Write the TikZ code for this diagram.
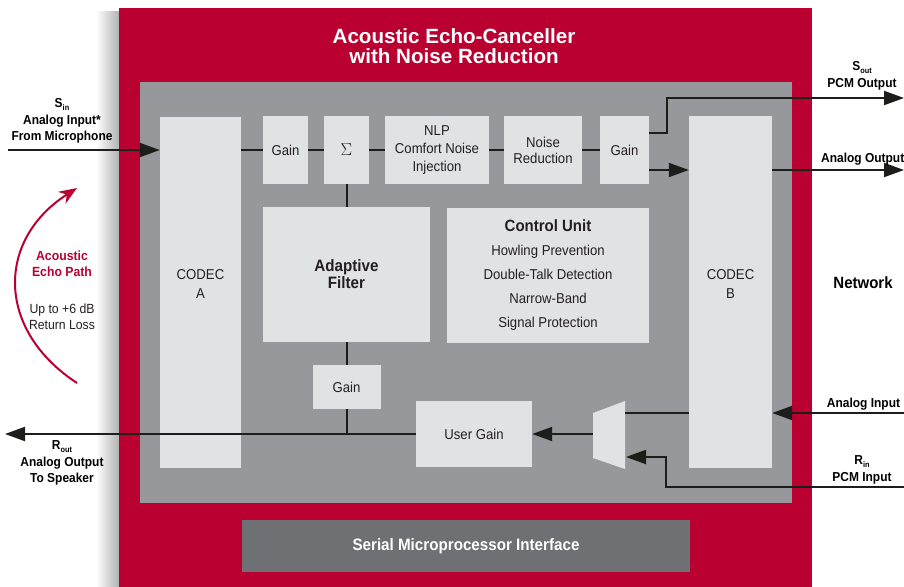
\documentclass[tikz,border=0pt]{standalone}
\usepackage{fontspec}
\setmainfont{Liberation Sans}[FakeStretch=0.92]
\newfontfamily\titlefont{Liberation Sans}
\usetikzlibrary{arrows.meta}
\definecolor{aecred}{HTML}{BA0031}
\definecolor{innergray}{HTML}{97989C}
\definecolor{boxgray}{HTML}{E1E2E4}
\definecolor{serialgray}{HTML}{6F7073}
\definecolor{txt}{HTML}{231F20}
\definecolor{lineblack}{HTML}{1D1D1B}
\newcommand\myfs[2]{\fontsize{#1}{#2}\selectfont}
\newcommand\mysub[1]{\raisebox{-0.35ex}{\fontsize{8}{8}\selectfont #1}}
\begin{document}
\begin{tikzpicture}[x=1pt,y=-1pt,
  box/.style={fill=boxgray, draw=none, text=txt, align=center, inner sep=0pt, font=\myfs{14.3}{18}},
  conn/.style={draw=lineblack, line width=2pt},
  arr/.style={conn, -{Triangle[length=20pt,width=14pt]}},
  lbl/.style={align=center, text=black, font=\bfseries\myfs{13}{16.5}},
  plain/.style={align=center, text=txt, inner sep=0pt},
]
\useasboundingbox (0,0) rectangle (904,586);
% frames
\shade[left color=white, right color=black!30] (96,12) rectangle (119,586);
\fill[aecred] (119,8) rectangle (812,590);
\fill[innergray] (140,82) rectangle (792,503);
\node[plain, text=white, font=\titlefont\bfseries\myfs{20.6}{20}] (title) at (454,46) {Acoustic Echo-Canceller\\with Noise Reduction};
% boxes
\node[box, minimum width=81pt, minimum height=351pt] (codA) at (200.5,292.5) {};
\node[plain, font=\myfs{14.3}{19}] (codAt) at (200.5,284) {CODEC\\A};
\node[box, minimum width=45pt, minimum height=68pt] (g1) at (285.5,150) {Gain};
\node[box, minimum width=45pt, minimum height=68pt, font=\myfs{16}{18}] (sig) at (346.5,150) {$\Sigma$};
\node[box, minimum width=104pt, minimum height=68pt] (nlp) at (437,150) {NLP\\Comfort Noise\\Injection};
\node[box, minimum width=78pt, minimum height=68pt, font=\myfs{14.3}{16}] (nr) at (543,150) {Noise\\Reduction};
\node[box, minimum width=49pt, minimum height=68pt] (g2) at (624.5,150) {Gain};
\node[box, minimum width=83pt, minimum height=352pt] (codB) at (730.5,292) {};
\node[plain, font=\myfs{14.3}{19}] (codBt) at (730.5,284) {CODEC\\B};
\node[box, minimum width=167pt, minimum height=135pt, font=\bfseries\myfs{16.5}{17}] (af) at (346.5,274.5) {Adaptive\\Filter};
\node[box, minimum width=202pt, minimum height=135pt, font=\myfs{14.3}{24}] (cu) at (548,275) {{\bfseries\myfs{16.3}{24}Control Unit}\\Howling Prevention\\Double-Talk Detection\\Narrow-Band\\Signal Protection};
\node[box, minimum width=68pt, minimum height=44pt] (g3) at (346.5,387) {Gain};
\node[box, minimum width=116pt, minimum height=66pt] (ug) at (474,434) {User Gain};
\fill[boxgray] (593,413) -- (625,401) -- (625,469) -- (593,458) -- cycle;
\node[fill=serialgray, text=white, inner sep=0pt, minimum width=448pt, minimum height=52pt, font=\bfseries\myfs{16.5}{18}] (ser) at (466,546) {Serial Microprocessor Interface};
% coordinates
\coordinate (sinL) at (8,150);
\coordinate (y170) at (0,170);
\coordinate (y133) at (0,133);
\coordinate (soutK) at (667,98);
\coordinate (soutE) at (904,98);
\coordinate (aoutE) at (904,170);
\coordinate (ainE) at (904,413);
\coordinate (muxTop) at (625,413);
\coordinate (rinE) at (904,487);
\coordinate (rinK) at (666,457);
\coordinate (muxBot) at (626,457);
\coordinate (muxL) at (593,434);
\coordinate (routE) at (5,434);
\coordinate (arcS) at (77,383);
\coordinate (arcE) at (77,188);
% connectors
\draw[arr] (sinL) -- (codA.west |- sinL);
\draw[conn] (codA.east |- g1.west) -- (g1.west);
\draw[conn] (g1.east) -- (sig.west);
\draw[conn] (sig.east) -- (nlp.west);
\draw[conn] (nlp.east) -- (nr.west);
\draw[conn] (nr.east) -- (g2.west);
\draw[arr] (g2.east |- y170) -- (codB.west |- y170);
\draw[arr] (g2.east |- y133) -| (soutK) -- (soutE);
\draw[arr] (codB.east |- y170) -- (aoutE);
\draw[arr] (ainE) -- (codB.east |- ainE);
\draw[conn] (codB.west |- ainE) -- (muxTop);
\draw[arr] (rinE) -| (rinK) -- (muxBot);
\draw[arr] (muxL) -- (ug.east);
\draw[arr] (ug.west) -- (routE);
\draw[conn] (sig.south) -- (af.north);
\draw[conn] (af.south) -- (g3.north);
\draw[conn] (g3.south) -- (g3.south |- ug.west);
\draw[aecred, line width=2pt, -{Stealth[length=18pt,width=14pt]}] (arcS) .. controls (-4,330) and (-4,240) .. (arcE);
% outside labels
\node[lbl] (sin) at (62,121) {S\mysub{in}\\Analog Input*\\From Microphone};
\node[lbl] (rout) at (62,463) {R\mysub{out}\\Analog Output\\To Speaker};
\node[lbl] (sout) at (862,76) {S\mysub{out}\\PCM Output};
\node[lbl, anchor=west, inner sep=0pt] (aout) at (821,159) {Analog Output};
\node[lbl] (ain) at (863.5,404) {Analog Input};
\node[lbl] (rin) at (862,470) {R\mysub{in}\\PCM Input};
\node[lbl, font=\bfseries\myfs{16.3}{18}] (net) at (863,283) {Network};
\node[lbl, text=aecred, font=\bfseries\myfs{13.3}{16}] (aep) at (62,264) {Acoustic\\Echo Path};
\node[lbl, text=txt, font=\myfs{13.3}{16}] (ret) at (62,317) {Up to +6 dB\\Return Loss};
\end{tikzpicture}
\end{document}
